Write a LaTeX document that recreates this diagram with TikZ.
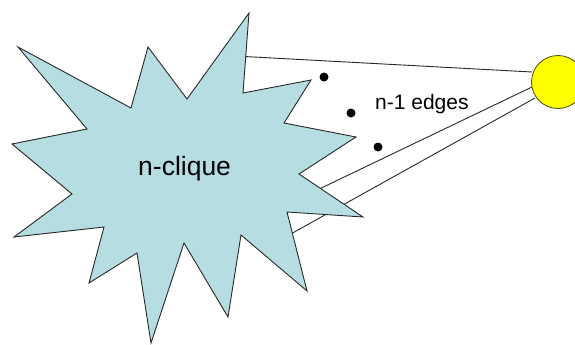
\documentclass[tikz,border=0pt]{standalone}
\usepackage{fontspec}
\setmainfont{Liberation Sans}
\definecolor{starfill}{RGB}{182,221,226}
\definecolor{linecol}{RGB}{40,40,40}
\definecolor{sunfill}{RGB}{255,255,0}
\definecolor{sunline}{RGB}{90,90,20}
\begin{document}
\begin{tikzpicture}[x=1pt,y=-1pt,
  edge/.style={draw=linecol,line width=0.9pt},
  dotmark/.style={circle,fill=black,inner sep=0pt,minimum size=9pt},
  lbl/.style={anchor=base west,inner sep=0pt,text=black}]
\useasboundingbox (0,0) rectangle (575,345);
\clip (0,0) rectangle (575,345);
% edge end points
\coordinate (s1) at (235,56);
\coordinate (s2) at (290,203);
\coordinate (s3) at (280,240);
\coordinate (e1) at (532,72);
\coordinate (e2) at (532,87);
\coordinate (e3) at (535,98);
\draw[edge] (s1) -- (e1);
\draw[edge] (s2) -- (e2);
\draw[edge] (s3) -- (e3);
% the n-clique star
\draw[fill=starfill,draw=linecol,line width=0.9pt,line join=miter]
  (18,47) -- (131,108) -- (148,47) -- (187,99) -- (249,13) -- (243,93)
  -- (311,80) -- (284,123) -- (356,137) -- (299,174) -- (363,217)
  -- (287,212) -- (307,291) -- (241,235) -- (228,317) -- (184,243)
  -- (151,343) -- (137,253) -- (89,283) -- (104,227) -- (14,237)
  -- (72,194) -- (12,144) -- (87,129) -- cycle;
% the vertex
\node[circle,fill=sunfill,draw=sunline,line width=0.9pt,minimum size=53pt,inner sep=0pt] (sun) at (558,82) {};
% dots
\node[dotmark] (d1) at (324,77) {};
\node[dotmark] (d2) at (351,113) {};
\node[dotmark] (d3) at (378,147) {};
% labels
\node[lbl,font=\fontsize{26.5}{31}\selectfont] (clique) at (138,175) {n-clique};
\node[lbl,font=\fontsize{21}{25}\selectfont] (edges) at (375,109) {n-1 edges};
\end{tikzpicture}
\end{document}
